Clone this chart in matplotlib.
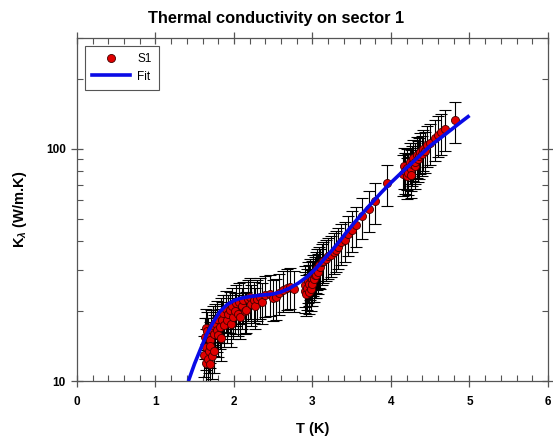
import matplotlib
matplotlib.use("Agg")
import matplotlib.pyplot as plt
from matplotlib.lines import Line2D
from matplotlib.ticker import FixedLocator, NullFormatter, MultipleLocator

plt.rcParams['font.family'] = ['Liberation Sans', 'DejaVu Sans']
plt.rcParams['mathtext.fontset'] = 'custom'
plt.rcParams['mathtext.rm'] = 'Liberation Sans:bold'
plt.rcParams['mathtext.it'] = 'Liberation Sans:bold:italic'
plt.rcParams['mathtext.bf'] = 'Liberation Sans:bold'

# ---- data: measured points (S1) ----
T_data = [1.62, 1.63, 1.64, 1.65, 1.65, 1.66, 1.67, 1.67, 1.68, 1.69, 1.69, 1.70,
          1.71, 1.72, 1.73, 1.74, 1.75, 1.76, 1.78, 1.79, 1.80, 1.82, 1.83, 1.84,
          1.85, 1.86, 1.88, 1.90, 1.91, 1.93, 1.95, 1.96, 1.98, 1.99, 2.01, 2.03,
          2.05, 2.07, 2.08, 2.10, 2.12, 2.14, 2.16, 2.18, 2.20, 2.22, 2.25, 2.27,
          2.29, 2.33, 2.36, 2.40, 2.46, 2.50, 2.54, 2.58, 2.63, 2.67, 2.72, 2.76,
          2.90, 2.91, 2.92, 2.93, 2.94, 2.95, 2.96, 2.97, 2.98, 2.99, 3.00, 3.01,
          3.02, 3.03, 3.04, 3.05, 3.06, 3.07, 3.08, 3.10, 3.12, 3.14, 3.17, 3.20,
          3.23, 3.27, 3.30, 3.33, 3.37, 3.41, 3.45, 3.50, 3.55, 3.63, 3.72, 3.80,
          3.95, 4.16,
          4.15, 4.18, 4.20, 4.21, 4.22, 4.24, 4.25, 4.26, 4.27, 4.28, 4.30, 4.31,
          4.33, 4.34, 4.36, 4.37, 4.39, 4.41, 4.43, 4.46, 4.50, 4.56, 4.60, 4.64,
          4.69, 4.82]
K_data = [13.0, 15.5, 12.0, 17.0, 14.0, 16.5, 15.5, 12.5, 13.5, 15.0, 11.8, 14.2,
          16.8, 12.8, 17.5, 16.0, 13.5, 17.8, 16.6, 18.5, 15.8, 17.1, 19.0, 15.3,
          18.3, 19.6, 17.5, 20.4, 18.3, 19.5, 20.2, 17.6, 21.0, 18.9, 20.0, 21.6,
          19.5, 22.0, 18.9, 21.0, 22.3, 20.0, 20.2, 22.6, 23.1, 21.5, 22.3, 21.0,
          22.6, 23.1, 22.0, 23.5, 23.8, 22.7, 23.0, 24.0, 24.7, 25.2, 25.5, 24.9,
          24.5, 26.0, 23.8, 25.2, 27.0, 24.2, 26.2, 28.0, 25.0, 27.4, 26.3, 29.0,
          27.5, 28.6, 30.0, 28.5, 30.8, 29.5, 31.5, 31.0, 32.5, 33.0, 33.6, 34.4,
          35.0, 36.1, 36.8, 37.9, 39.5, 40.5, 43.0, 44.8, 47.0, 51.1, 55.0, 59.5,
          71.0, 84.0,
          78, 80, 76, 83, 79, 88, 82, 77, 86, 91, 84, 88,
          94, 90, 93, 97, 95, 100, 98, 104, 106, 111, 115, 118,
          122, 133]
rel_err = 0.2

# ---- fit curve ----
T_fit = [1.42, 1.50, 1.57, 1.65, 1.74, 1.82, 1.91, 2.00, 2.08, 2.20, 2.33, 2.50,
         2.60, 2.71, 2.82, 2.93, 3.04, 3.14, 3.25, 3.35, 3.44, 3.55, 3.66, 3.77,
         3.88, 4.00, 4.16, 4.30, 4.50, 4.70, 4.90, 5.00]
K_fit = [10.0, 11.9, 13.6, 15.8, 18.0, 19.9, 21.3, 22.2, 22.7, 23.1, 23.4, 23.7,
         24.2, 25.1, 26.4, 28.1, 30.4, 33.2, 36.6, 40.2, 44.0, 48.8, 53.8, 59.2,
         65.0, 71.5, 80.5, 89.0, 103.0, 116.0, 131.0, 139.0]

x_ticks = [0, 1, 2, 3, 4, 5, 6]
y_ticks = [10, 100]

fig = plt.figure(figsize=(5.53, 4.36), dpi=100)
ax = fig.add_axes([0.139, 0.126, 0.852, 0.787])

yerr = [k * rel_err for k in K_data]
ax.errorbar(T_data, K_data, yerr=yerr, fmt='none', ecolor='black',
            elinewidth=0.8, capsize=4.5, capthick=0.8, zorder=2)
ax.plot(T_data, K_data, 'o', color='#e00000', markeredgecolor='#400000',
        markeredgewidth=0.6, markersize=5.8, zorder=3)
ax.plot(T_fit, K_fit, '-', color='#0a0ae6', linewidth=2.6, zorder=4,
        solid_capstyle='butt')

ax.set_yscale('log')
ax.set_xlim(0, 6)
ax.set_ylim(10, 300)
ax.xaxis.set_major_locator(FixedLocator(x_ticks))
ax.xaxis.set_minor_locator(MultipleLocator(0.2))
ax.yaxis.set_major_locator(FixedLocator(y_ticks))
ax.yaxis.set_minor_locator(FixedLocator([20, 30, 40, 50, 60, 70, 80, 90, 200, 300]))
ax.yaxis.set_minor_formatter(NullFormatter())
ax.set_yticklabels([str(v) for v in y_ticks])
ax.set_xticklabels([str(v) for v in x_ticks])

for s in ax.spines.values():
    s.set_color('#555555')
    s.set_linewidth(0.9)
ax.tick_params(which='major', direction='inout', length=8, width=0.9,
               color='#555555', top=True, right=True, labelsize=8.5)
ax.tick_params(axis='x', which='major', pad=7)
ax.tick_params(axis='y', which='major', pad=4)
ax.tick_params(which='minor', direction='in', length=4, width=0.8,
               color='#555555', top=True, right=True)
for lab in ax.get_xticklabels() + ax.get_yticklabels():
    lab.set_fontweight('bold')

ax.set_xlabel('T (K)', fontsize=10.5, fontweight='bold', labelpad=10)
ax.set_ylabel(r'K$_{\lambda}$ (W/m.K)', fontsize=10.5, fontweight='bold', labelpad=12)
fig.text(0.5, 0.958, 'Thermal conductivity on sector 1', fontsize=11.8,
         fontweight='bold', ha='center', va='center')

handles = [Line2D([], [], marker='o', linestyle='none', color='#e00000',
                  markeredgecolor='#400000', markeredgewidth=0.6, markersize=5.8),
           Line2D([], [], color='#0a0ae6', linewidth=2.6)]
leg = ax.legend(handles, ['S1', 'Fit'], loc='upper left', fontsize=8.5,
                fancybox=False, framealpha=1, edgecolor='#555555',
                borderaxespad=0.7, handlelength=3.2, labelspacing=0.45,
                borderpad=0.6, handletextpad=0.6)
leg.get_frame().set_linewidth(0.8)

fig.savefig('out.png', dpi=100)
